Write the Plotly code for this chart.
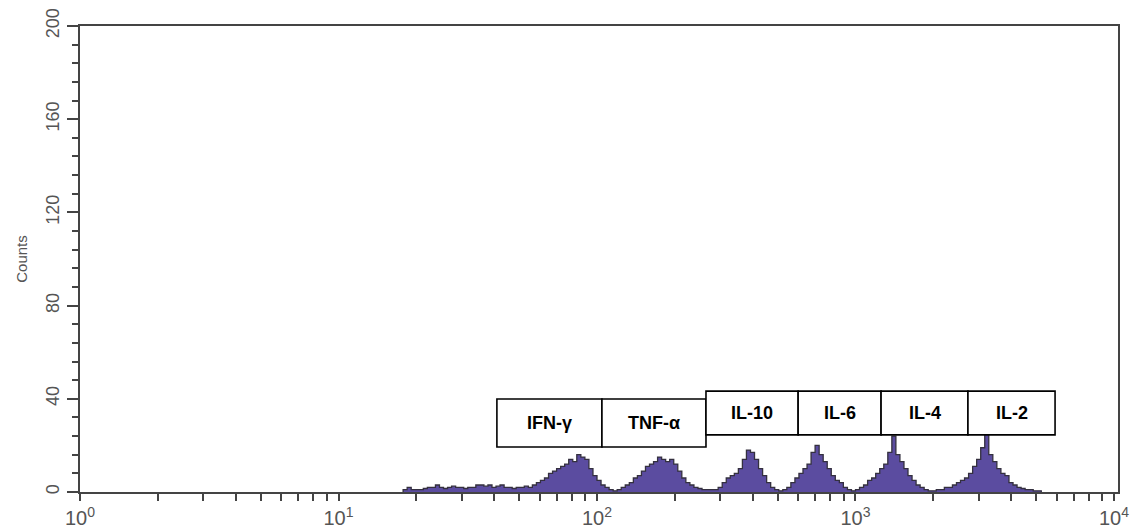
import math
import plotly.graph_objects as go

# ---- data -------------------------------------------------------------
bins_per_decade = 64
first_bin = 80  # first populated channel (log10 = 80/64)
counts = [
    1, 2, 1, 1,
    1, 1.5, 2, 2, 3,
    2, 1.5, 2, 2.5, 2, 2, 1.5, 2,
    2, 3, 3, 2.5, 3, 2, 2.5, 3, 2, 2, 1.5, 2,
    2, 2.5, 2, 3, 4,
    5, 6, 8, 9, 10,
    11, 12, 14, 13, 16, 15, 14, 10, 7, 5,
    3, 2, 1, 0.5, 1, 2, 3, 4, 6, 7,
    9, 11, 12, 13, 15, 14, 13, 14, 12, 9,
    6, 4, 3, 2, 1.5, 1, 1, 1, 1, 2,
    4, 6, 7, 8, 10,
    14, 18, 17, 14, 10, 7, 4, 2, 1, 0.5,
    1, 2, 4, 6, 8, 10, 12, 17, 20, 16,
    13, 10, 7, 5, 4, 2, 1, 0.5, 1, 2,
    3, 5, 6, 8, 10, 12, 17, 24,
    16, 13, 10, 7, 5, 3, 2, 1, 0.5, 0.5,
    1, 1, 2, 2, 3, 4, 5, 6, 8, 11,
    14, 19, 25, 16, 13, 10, 8, 7, 4, 3,
    2, 1.5, 1, 1, 0.5, 0.5,
]

labels = ["IFN-γ", "TNF-α", "IL-10", "IL-6", "IL-4", "IL-2"]
label_edges = [41, 104.5, 264, 600, 1256, 2723, 5916]
label_y_bottom = [19.3, 19.3, 24.5, 24.5, 24.5, 24.5]
label_y_top = [39.9, 39.9, 43.3, 43.3, 43.3, 43.3]

y_major = [0, 40, 80, 120, 160, 200]
decades = [0, 1, 2, 3, 4]

# ---- build step histogram --------------------------------------------
edges = [10 ** ((first_bin + i) / bins_per_decade) for i in range(len(counts) + 1)]
xs = [edges[0]] + edges
ys = [0] + counts + [counts[-1]]
xs.append(edges[-1])
ys.append(0)

fig = go.Figure()
fig.add_trace(go.Scatter(
    x=xs, y=ys, mode="lines", line_shape="hv",
    line=dict(color="#34303f", width=1.3),
    fill="tozeroy", fillcolor="#5b4ca0",
    hoverinfo="skip", showlegend=False,
))

# ---- label boxes ------------------------------------------------------
for i, lab in enumerate(labels):
    x0, x1 = label_edges[i], label_edges[i + 1]
    fig.add_shape(type="rect", xref="x", yref="y",
                  x0=x0, x1=x1, y0=label_y_bottom[i], y1=label_y_top[i],
                  line=dict(color="black", width=1.6), fillcolor="white")
    fig.add_annotation(x=(math.log10(x0) + math.log10(x1)) / 2,
                       y=(label_y_bottom[i] + label_y_top[i]) / 2,
                       text="<b>%s</b>" % lab, showarrow=False,
                       font=dict(family="Liberation Sans, Arial", size=18, color="black"))

# ---- axes -------------------------------------------------------------
tickvals = []
ticktext = []
for d in decades:
    for m in range(1, 10):
        if d == decades[-1] and m > 1:
            break
        tickvals.append(m * 10 ** d)
        ticktext.append("10<sup>%d</sup>" % d if m == 1 else "")

fig.update_xaxes(
    type="log", range=[0, 4.0155], automargin=False,
    tickvals=tickvals, ticktext=ticktext,
    ticks="outside", ticklen=7, tickwidth=2, tickcolor="#444444",
    showline=True, linecolor="#444444", linewidth=2, mirror=True,
    showgrid=False, zeroline=False,
    tickfont=dict(family="Liberation Sans, Arial", size=20, color="#555555"),
    ticklabelstandoff=0,
)
fig.update_yaxes(
    range=[0, 200], tickvals=y_major, automargin=False,
    ticks="outside", ticklen=11, tickwidth=2, tickcolor="#444444",
    minor=dict(dtick=8, ticks="outside", ticklen=6, tickwidth=2, tickcolor="#444444"),
    showline=True, linecolor="#444444", linewidth=2, mirror=True,
    showgrid=False, zeroline=False, tickangle=-90,
    tickfont=dict(family="Liberation Sans, Arial", size=18, color="#555555"),
    ticklabelstandoff=1,
    title=dict(text="Counts", font=dict(family="Liberation Sans, Arial", size=15, color="#555555"),
               standoff=12),
)

fig.update_layout(
    width=1144, height=532,
    margin=dict(l=80, r=26, t=26, b=40),
    paper_bgcolor="white", plot_bgcolor="white",
    showlegend=False,
)

fig.write_html(
    "out.html",
    config={"displayModeBar": False},
    post_script="document.body.style.margin='0';document.body.style.overflow='hidden';",
)
